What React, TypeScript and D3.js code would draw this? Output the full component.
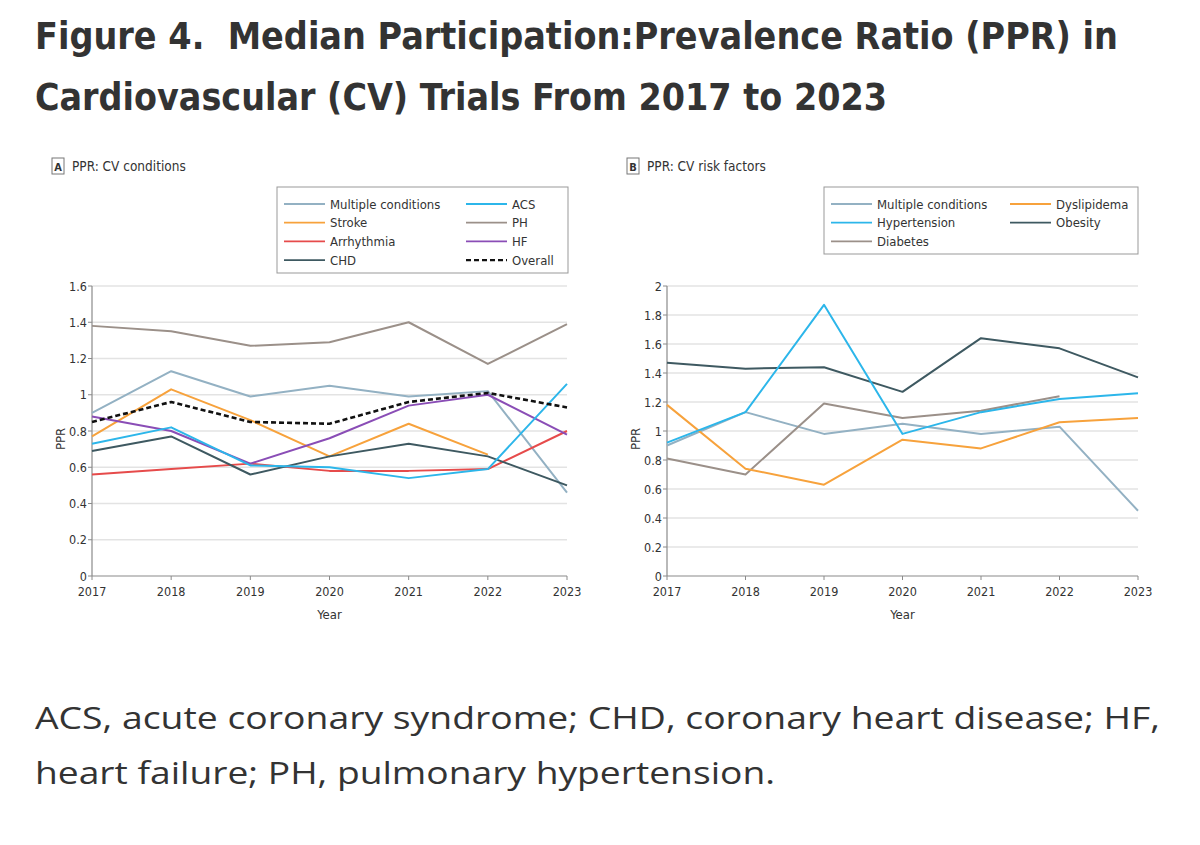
import * as d3 from 'd3';

const years = [2017, 2018, 2019, 2020, 2021, 2022, 2023];

// Panel A: CV conditions
const multipleA = [0.9, 1.13, 0.99, 1.05, 0.99, 1.02, 0.46];
const stroke = [0.77, 1.03, 0.86, 0.66, 0.84, 0.67, null];
const arrhythmia = [0.56, 0.59, 0.62, 0.58, 0.58, 0.59, 0.8];
const chd = [0.69, 0.77, 0.56, 0.66, 0.73, 0.66, 0.5];
const acs = [0.73, 0.82, 0.61, 0.6, 0.54, 0.59, 1.06];
const ph = [1.38, 1.35, 1.27, 1.29, 1.4, 1.17, 1.39];
const hf = [0.88, 0.8, 0.62, 0.76, 0.94, 1.0, 0.78];
const overall = [0.85, 0.96, 0.85, 0.84, 0.96, 1.01, 0.93];

// Panel B: CV risk factors
const multipleB = [0.9, 1.13, 0.98, 1.05, 0.98, 1.03, 0.45];
const hypertension = [0.92, 1.13, 1.87, 0.98, 1.13, 1.22, 1.26];
const diabetes = [0.81, 0.7, 1.19, 1.09, 1.14, 1.24, null];
const dyslipidemia = [1.18, 0.74, 0.63, 0.94, 0.88, 1.06, 1.09];
const obesity = [1.47, 1.43, 1.44, 1.27, 1.64, 1.57, 1.37];

const ticksA = [0, 0.2, 0.4, 0.6, 0.8, 1, 1.2, 1.4, 1.6];
const ticksB = [0, 0.2, 0.4, 0.6, 0.8, 1, 1.2, 1.4, 1.6, 1.8, 2];

const C = {
  multiple: '#93b1c3',
  cyan: '#2cb6ea',
  orange: '#f7a23c',
  brown: '#9b9089',
  red: '#e64b4b',
  purple: '#8a4db6',
  slate: '#3e5961',
  black: '#111',
};

type Series = { name: string; values: (number | null)[]; color: string; dash?: string };

const seriesA: Series[] = [
  { name: 'Multiple conditions', values: multipleA, color: C.multiple },
  { name: 'PH', values: ph, color: C.brown },
  { name: 'Stroke', values: stroke, color: C.orange },
  { name: 'Arrhythmia', values: arrhythmia, color: C.red },
  { name: 'CHD', values: chd, color: C.slate },
  { name: 'HF', values: hf, color: C.purple },
  { name: 'ACS', values: acs, color: C.cyan },
  { name: 'Overall', values: overall, color: C.black, dash: '5,3' },
];
const legendA = [
  ['Multiple conditions', 'Stroke', 'Arrhythmia', 'CHD'],
  ['ACS', 'PH', 'HF', 'Overall'],
];

const seriesB: Series[] = [
  { name: 'Multiple conditions', values: multipleB, color: C.multiple },
  { name: 'Diabetes', values: diabetes, color: C.brown },
  { name: 'Dyslipidema', values: dyslipidemia, color: C.orange },
  { name: 'Obesity', values: obesity, color: C.slate },
  { name: 'Hypertension', values: hypertension, color: C.cyan },
];
const legendB = [
  ['Multiple conditions', 'Hypertension', 'Diabetes'],
  ['Dyslipidema', 'Obesity'],
];

const FONT = "'DejaVu Sans Condensed', 'Liberation Sans Narrow', 'Noto Sans', sans-serif";
const TXT = '#333';

interface PanelProps {
  letter: string;
  title: string;
  x0: number;
  x1: number;
  yMax: number;
  ticks: number[];
  series: Series[];
  legend: string[][];
  legendBox: { x: number; y: number; w: number; h: number; col2: number };
}

function Panel({ letter, title, x0, x1, yMax, ticks, series, legend, legendBox }: PanelProps) {
  const y0 = 576, yTop = 286;
  const x = d3.scaleLinear().domain([2017, 2023]).range([x0, x1]);
  const y = d3.scaleLinear().domain([0, yMax]).range([y0, yTop]);
  const line = d3
    .line<number | null>()
    .defined((d) => d != null)
    .x((_, i) => x(years[i]))
    .y((d) => y(d as number));
  const byName = new Map(series.map((s) => [s.name, s]));
  const fmt = (v: number) => (Number.isInteger(v) ? String(v) : v.toFixed(1));

  return (
    <g fontFamily={FONT} fill={TXT}>
      <rect x={x0 - 40} y={158} width={12} height={16} fill="none" stroke="#777" strokeWidth={1} />
      <text x={x0 - 34} y={170.5} fontSize={11} fontWeight="bold" textAnchor="middle">{letter}</text>
      <text x={x0 - 20} y={171} fontSize={13.5}>{title}</text>

      {/* legend */}
      <rect x={legendBox.x} y={legendBox.y} width={legendBox.w} height={legendBox.h} fill="#fff" stroke="#999" strokeWidth={1} />
      {legend.map((col, ci) =>
        col.map((name, ri) => {
          const s = byName.get(name)!;
          const lx = ci === 0 ? legendBox.x + 7 : legendBox.col2;
          const ly = legendBox.y + 17 + ri * 18.7;
          return (
            <g key={name}>
              <line x1={lx} x2={lx + 41} y1={ly} y2={ly} stroke={s.color} strokeWidth={s.dash ? 2.4 : 1.8} strokeDasharray={s.dash} />
              <text x={lx + 46} y={ly + 4.5} fontSize={13}>{name}</text>
            </g>
          );
        })
      )}

      {/* grid */}
      {ticks.filter((t) => t > 0).map((t) => (
        <line key={t} x1={x0} x2={x1} y1={y(t)} y2={y(t)} stroke="#e3e3e3" strokeWidth={1.3} />
      ))}
      {/* axes */}
      <line x1={x0} x2={x0} y1={yTop} y2={y0} stroke="#8a8a8a" strokeWidth={1.2} />
      <line x1={x0} x2={x1} y1={y0} y2={y0} stroke="#8a8a8a" strokeWidth={1.2} />
      {ticks.map((t) => (
        <g key={t}>
          <line x1={x0 - 4} x2={x0} y1={y(t)} y2={y(t)} stroke="#8a8a8a" />
          <text x={x0 - 5} y={y(t) + 4.5} fontSize={12.5} textAnchor="end">{fmt(t)}</text>
        </g>
      ))}
      {years.map((yr) => (
        <g key={yr}>
          <line x1={x(yr)} x2={x(yr)} y1={y0} y2={y0 + 4} stroke="#8a8a8a" />
          <text x={x(yr)} y={y0 + 20} fontSize={12.5} textAnchor="middle">{yr}</text>
        </g>
      ))}
      <text x={(x0 + x1) / 2} y={y0 + 43} fontSize={13} textAnchor="middle">Year</text>
      <text transform={`translate(${x0 - 27},${(y0 + yTop) / 2 + 8}) rotate(-90)`} fontSize={13} textAnchor="middle">PPR</text>

      {/* series */}
      {series.map((s) => (
        <path key={s.name} d={line(s.values) || ''} fill="none" stroke={s.color} strokeWidth={s.dash ? 2.6 : 2} strokeDasharray={s.dash} strokeLinejoin="round" />
      ))}
    </g>
  );
}

export default function App() {
  return (
    <svg width={1200} height={845} style={{ position: 'absolute', left: 0, top: 0, background: '#fff' }}>
      <rect width={1200} height={845} fill="#fff" />
      <g fontFamily={FONT} fill="#333" fontWeight="bold" fontSize={37} style={{ whiteSpace: 'pre' }}>
        <text x={35} y={49} textLength={1083} lengthAdjust="spacingAndGlyphs">{'Figure 4.\u00a0 Median Participation:Prevalence Ratio (PPR) in'}</text>
        <text x={35} y={110} textLength={852} lengthAdjust="spacingAndGlyphs">Cardiovascular (CV) Trials From 2017 to 2023</text>
      </g>
      <Panel
        letter="A"
        title="PPR: CV conditions"
        x0={92}
        x1={567}
        yMax={1.6}
        ticks={ticksA}
        series={seriesA}
        legend={legendA}
        legendBox={{ x: 277, y: 187, w: 291, h: 86, col2: 466 }}
      />
      <Panel
        letter="B"
        title="PPR: CV risk factors"
        x0={667}
        x1={1138}
        yMax={2}
        ticks={ticksB}
        series={seriesB}
        legend={legendB}
        legendBox={{ x: 824, y: 187, w: 314, h: 67, col2: 1010 }}
      />
      <g fontFamily="'Open Sans', 'Noto Sans', sans-serif" fill="#333" fontSize={31}>
        <text x={35} y={729} textLength={1125} lengthAdjust="spacingAndGlyphs">ACS, acute coronary syndrome; CHD, coronary heart disease; HF,</text>
        <text x={35} y={784} textLength={740} lengthAdjust="spacingAndGlyphs">heart failure; PH, pulmonary hypertension.</text>
      </g>
    </svg>
  );
}
